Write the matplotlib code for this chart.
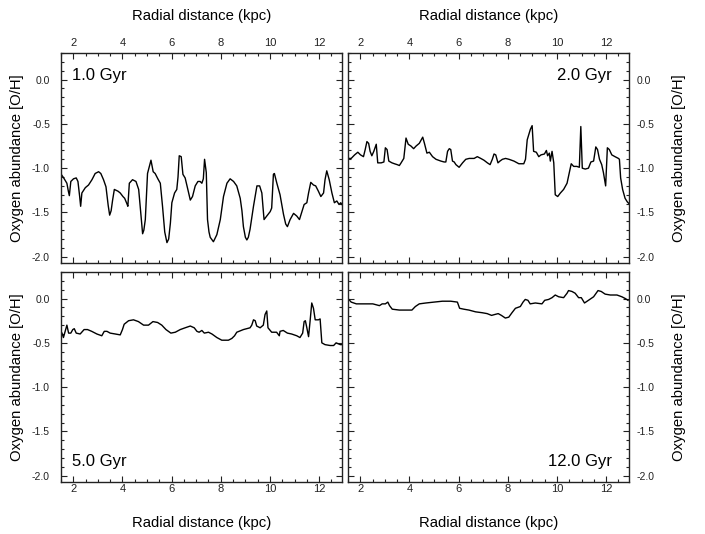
import numpy as np
import matplotlib
matplotlib.use('Agg')
import matplotlib.pyplot as plt
from matplotlib.ticker import MultipleLocator

plt.rcParams['font.family'] = ['Liberation Sans', 'DejaVu Sans']

# 1.0 Gyr
r_1 = [1.51, 1.61, 1.74, 1.80, 1.84, 1.90, 2.01, 2.12, 2.19, 2.26, 2.30, 2.35, 2.49, 2.62, 2.76,
       2.89, 3.03, 3.12, 3.23, 3.33, 3.42, 3.48, 3.54, 3.60, 3.67, 3.82, 3.91, 4.02, 4.09, 4.18,
       4.22, 4.28, 4.41, 4.55, 4.66, 4.75, 4.82, 4.87, 4.93, 5.02, 5.16, 5.25, 5.33, 5.44, 5.54,
       5.63, 5.72, 5.81, 5.88, 5.95, 6.01, 6.12, 6.21, 6.26, 6.31, 6.39, 6.46, 6.55, 6.66, 6.76,
       6.85, 6.96, 7.07, 7.16, 7.23, 7.29, 7.34, 7.41, 7.46, 7.52, 7.57, 7.70, 7.84, 7.98, 8.11,
       8.25, 8.38, 8.52, 8.65, 8.79, 8.86, 8.92, 9.00, 9.06, 9.12, 9.19, 9.33, 9.47, 9.58, 9.67,
       9.72, 9.76, 9.87, 10.01, 10.07, 10.14, 10.18, 10.28, 10.41, 10.55, 10.64, 10.71, 10.82,
       10.96, 11.09, 11.20, 11.30, 11.39, 11.50, 11.57, 11.66, 11.77, 11.86, 11.97, 12.07, 12.18,
       12.24, 12.31, 12.41, 12.52, 12.62, 12.72, 12.81, 12.88, 12.93]
oh_1 = [-1.07, -1.11, -1.17, -1.26, -1.31, -1.15, -1.12, -1.11, -1.15, -1.32, -1.43, -1.28, -1.22,
        -1.19, -1.13, -1.06, -1.04, -1.06, -1.13, -1.21, -1.42, -1.53, -1.48, -1.36, -1.24, -1.26,
        -1.28, -1.32, -1.34, -1.40, -1.43, -1.17, -1.13, -1.15, -1.24, -1.52, -1.74, -1.70, -1.58,
        -1.06, -0.91, -1.04, -1.06, -1.12, -1.17, -1.43, -1.72, -1.84, -1.80, -1.62, -1.39, -1.28,
        -1.24, -1.10, -0.86, -0.87, -1.07, -1.11, -1.24, -1.36, -1.32, -1.20, -1.15, -1.15, -1.17,
        -1.12, -0.90, -1.05, -1.58, -1.72, -1.78, -1.83, -1.75, -1.58, -1.32, -1.17, -1.12, -1.15,
        -1.20, -1.34, -1.48, -1.66, -1.78, -1.81, -1.78, -1.69, -1.43, -1.20, -1.20, -1.28, -1.45,
        -1.58, -1.54, -1.49, -1.45, -1.07, -1.06, -1.17, -1.30, -1.52, -1.63, -1.66, -1.58, -1.51,
        -1.54, -1.58, -1.49, -1.41, -1.39, -1.28, -1.16, -1.19, -1.20, -1.26, -1.32, -1.28, -1.13,
        -1.03, -1.13, -1.28, -1.39, -1.37, -1.41, -1.39, -1.41]

# 2.0 Gyr
r_2 = [1.50, 1.63, 1.77, 1.90, 2.01, 2.13, 2.20, 2.27, 2.34, 2.40, 2.47, 2.55, 2.65, 2.71, 2.85,
       2.96, 3.02, 3.09, 3.16, 3.29, 3.39, 3.50, 3.59, 3.66, 3.77, 3.86, 3.95, 4.06, 4.17, 4.27,
       4.40, 4.54, 4.61, 4.71, 4.81, 4.94, 5.08, 5.28, 5.41, 5.48, 5.55, 5.62, 5.68, 5.75, 5.82,
       5.89, 6.02, 6.16, 6.29, 6.43, 6.63, 6.76, 6.90, 7.03, 7.17, 7.28, 7.37, 7.44, 7.51, 7.60,
       7.68, 7.78, 7.91, 8.05, 8.25, 8.45, 8.65, 8.72, 8.79, 8.92, 8.99, 9.05, 9.16, 9.26, 9.35,
       9.49, 9.57, 9.62, 9.69, 9.73, 9.80, 9.87, 9.93, 10.03, 10.14, 10.27, 10.41, 10.51, 10.58,
       10.68, 10.81, 10.91, 10.97, 11.03, 11.15, 11.28, 11.38, 11.49, 11.58, 11.65, 11.73, 11.82,
       11.89, 11.98, 12.05, 12.13, 12.23, 12.36, 12.50, 12.54, 12.59, 12.67, 12.77, 12.86, 12.93]
oh_2 = [-0.89, -0.89, -0.85, -0.82, -0.85, -0.87, -0.79, -0.70, -0.72, -0.81, -0.86, -0.81, -0.73,
        -0.94, -0.94, -0.93, -0.77, -0.79, -0.92, -0.94, -0.95, -0.96, -0.97, -0.94, -0.89, -0.66,
        -0.73, -0.75, -0.78, -0.75, -0.72, -0.65, -0.72, -0.83, -0.82, -0.87, -0.90, -0.92, -0.93,
        -0.93, -0.81, -0.78, -0.79, -0.92, -0.93, -0.96, -0.99, -0.94, -0.90, -0.89, -0.89, -0.87,
        -0.89, -0.91, -0.94, -0.96, -0.90, -0.84, -0.85, -0.94, -0.92, -0.90, -0.89, -0.90, -0.92,
        -0.95, -0.95, -0.90, -0.68, -0.56, -0.52, -0.81, -0.82, -0.87, -0.85, -0.84, -0.80, -0.86,
        -0.83, -0.92, -0.81, -0.94, -1.30, -1.32, -1.28, -1.24, -1.17, -1.04, -0.95, -0.98, -0.98,
        -0.99, -0.53, -1.00, -1.01, -1.00, -0.93, -0.92, -0.76, -0.79, -0.90, -0.96, -1.05, -1.20,
        -0.77, -0.79, -0.85, -0.87, -0.89, -0.90, -1.11, -1.24, -1.34, -1.38, -1.40]

# 5.0 Gyr
r_5 = [1.54, 1.6, 1.67, 1.74, 1.81, 1.9, 1.98, 2.04, 2.12, 2.28, 2.44, 2.58, 2.75, 2.96, 3.16,
       3.26, 3.37, 3.5, 3.71, 3.91, 4.0, 4.07, 4.25, 4.45, 4.65, 4.86, 5.06, 5.24, 5.43, 5.6,
       5.77, 5.97, 6.15, 6.35, 6.55, 6.76, 6.92, 7.03, 7.12, 7.23, 7.33, 7.5, 7.64, 7.84, 8.04,
       8.31, 8.45, 8.56, 8.65, 8.92, 9.19, 9.26, 9.33, 9.4, 9.46, 9.6, 9.73, 9.8, 9.87, 9.92,
       10.07, 10.27, 10.38, 10.41, 10.54, 10.71, 10.88, 11.09, 11.22, 11.33, 11.39, 11.44, 11.5,
       11.57, 11.63, 11.7, 11.77, 11.84, 11.97, 12.04, 12.11, 12.24, 12.45, 12.59, 12.69, 12.86,
       12.93]
oh_5 = [-0.39, -0.44, -0.37, -0.30, -0.39, -0.39, -0.35, -0.34, -0.39, -0.40, -0.35, -0.35, -0.37,
        -0.40, -0.42, -0.37, -0.37, -0.39, -0.40, -0.41, -0.35, -0.29, -0.25, -0.24, -0.26, -0.30,
        -0.30, -0.26, -0.27, -0.30, -0.35, -0.39, -0.38, -0.35, -0.33, -0.31, -0.33, -0.37, -0.38,
        -0.36, -0.39, -0.38, -0.40, -0.44, -0.47, -0.47, -0.45, -0.42, -0.38, -0.35, -0.33, -0.30,
        -0.24, -0.25, -0.31, -0.33, -0.30, -0.18, -0.14, -0.33, -0.38, -0.38, -0.42, -0.37, -0.36,
        -0.39, -0.40, -0.42, -0.44, -0.39, -0.26, -0.25, -0.33, -0.43, -0.26, -0.05, -0.11, -0.24,
        -0.24, -0.23, -0.50, -0.52, -0.53, -0.53, -0.50, -0.52, -0.52]

# 12.0 Gyr
r_12 = [1.5, 1.63, 1.84, 2.24, 2.51, 2.78, 2.89, 3.02, 3.12, 3.19, 3.3, 3.59, 3.86, 4.1, 4.24,
        4.4, 4.67, 5.0, 5.34, 5.68, 5.95, 6.04, 6.21, 6.42, 6.69, 6.96, 7.16, 7.34, 7.47, 7.61,
        7.74, 7.9, 8.04, 8.17, 8.31, 8.51, 8.62, 8.71, 8.82, 8.91, 9.12, 9.39, 9.5, 9.66, 9.8,
        9.93, 10.07, 10.27, 10.41, 10.47, 10.61, 10.74, 10.88, 10.99, 11.12, 11.28, 11.49, 11.67,
        11.8, 11.96, 12.17, 12.44, 12.64, 12.78, 12.89]
oh_12 = [0.0, -0.04, -0.06, -0.06, -0.06, -0.08, -0.06, -0.06, -0.04, -0.08, -0.12, -0.13, -0.13,
         -0.13, -0.09, -0.06, -0.05, -0.04, -0.03, -0.03, -0.04, -0.11, -0.12, -0.13, -0.15, -0.16,
         -0.17, -0.19, -0.18, -0.17, -0.19, -0.22, -0.21, -0.16, -0.11, -0.09, -0.04, -0.01, -0.02,
         -0.06, -0.05, -0.06, -0.02, -0.01, 0.01, 0.04, 0.02, 0.01, 0.06, 0.09, 0.08, 0.06, 0.01,
         0.01, -0.05, -0.02, 0.02, 0.09, 0.08, 0.05, 0.04, 0.04, 0.02, 0.0, -0.02]

panels = [
    (r_1, oh_1, '1.0 Gyr', 'tl'),
    (r_2, oh_2, '2.0 Gyr', 'tr'),
    (r_5, oh_5, '5.0 Gyr', 'bl'),
    (r_12, oh_12, '12.0 Gyr', 'br'),
]

positions = {
    'tl': [0.0865, 0.5075, 0.3986, 0.3933],
    'tr': [0.4936, 0.5075, 0.3986, 0.3933],
    'bl': [0.0865, 0.0974, 0.3986, 0.3933],
    'br': [0.4936, 0.0974, 0.3986, 0.3933],
}

fig = plt.figure(figsize=(7.05, 5.34), dpi=100)
edge = '#222222'

for r, oh, label, where in panels:
    ax = fig.add_axes(positions[where])
    ax.plot(r, oh, color='black', lw=1.0)
    ax.set_xlim(1.5, 12.93)
    ax.set_ylim(-2.07, 0.3)
    ax.xaxis.set_major_locator(MultipleLocator(2))
    ax.xaxis.set_minor_locator(MultipleLocator(0.5))
    ax.yaxis.set_major_locator(MultipleLocator(0.5))
    ax.yaxis.set_minor_locator(MultipleLocator(0.1))
    ax.yaxis.set_major_formatter(plt.FormatStrFormatter('%.1f'))
    for s in ax.spines.values():
        s.set_color(edge)
        s.set_linewidth(1.0)

    top = where[0] == 't'
    left = where[1] == 'l'
    ax.tick_params(which='both', direction='in', top=True, bottom=True, left=True, right=True,
                   labeltop=top, labelbottom=not top, labelleft=left, labelright=not left,
                   colors=edge, width=0.8)
    ax.tick_params(which='major', length=4)
    ax.tick_params(which='minor', length=2)
    ax.tick_params(axis='x', labelsize=8, pad=3.5 if top else 1.8)
    ax.tick_params(axis='y', labelsize=7.5, pad=7.9 if left else 5.3)

    if top:
        ax.xaxis.set_label_position('top')
        ax.set_xlabel('Radial distance (kpc)', fontsize=10.7, labelpad=13)
    else:
        ax.set_xlabel('Radial distance (kpc)', fontsize=10.7, labelpad=15.5)
    if left:
        ax.set_ylabel('Oxygen abundance [O/H]', fontsize=10.7, labelpad=6)
    else:
        ax.yaxis.set_label_position('right')
        ax.set_ylabel('Oxygen abundance [O/H]', fontsize=10.7, labelpad=13)

    if where == 'tl':
        ax.text(0.04, 0.93, label, transform=ax.transAxes, fontsize=12, va='top', ha='left')
    elif where == 'tr':
        ax.text(0.94, 0.93, label, transform=ax.transAxes, fontsize=12, va='top', ha='right')
    elif where == 'bl':
        ax.text(0.04, 0.06, label, transform=ax.transAxes, fontsize=12, va='bottom', ha='left')
    else:
        ax.text(0.94, 0.06, label, transform=ax.transAxes, fontsize=12, va='bottom', ha='right')

fig.savefig('out.png', dpi=100)
